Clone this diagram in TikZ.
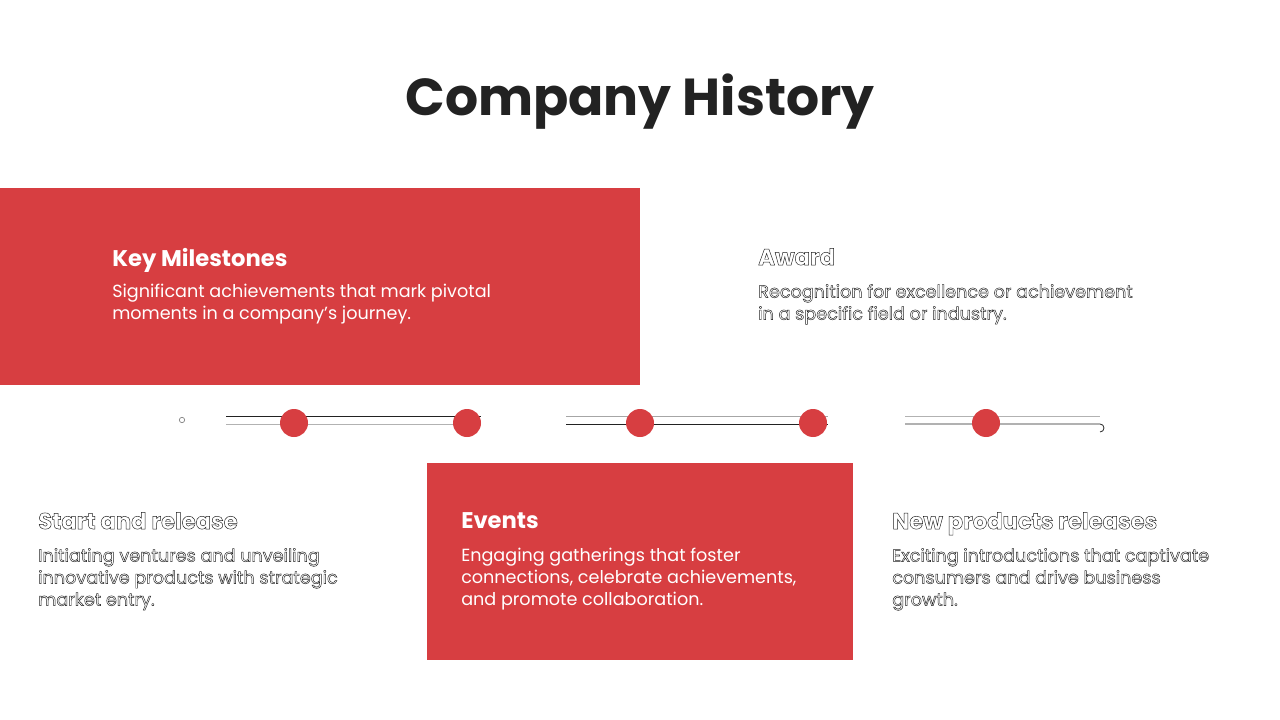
\documentclass[tikz,border=0pt]{standalone}
\usepackage{fontspec}
\setmainfont{Poppins}
\definecolor{brand}{HTML}{D73E41}
\definecolor{ink}{HTML}{222222}
\newcommand{\outl}[1]{\special{pdf:literal direct 1 Tr 0.35 w}#1\special{pdf:literal direct 0 Tr}}
\tikzset{
  hd/.style={anchor=north west,align=left,font=\fontsize{17}{20}\selectfont\bfseries,inner sep=0},
  bd/.style={anchor=north west,align=left,font=\fontsize{13.2}{16.5}\selectfont,inner sep=0},
  dot/.style={circle,fill=brand,minimum size=21pt,inner sep=0},
  tl/.style={line width=0.6pt}
}
\begin{document}
\begin{tikzpicture}[x=0.75pt,y=-0.75pt]
\useasboundingbox (0,0) rectangle (1280,720);
\node[font=\fontsize{39}{44}\selectfont\bfseries,text=ink] (title) at (640,102) {Company History};
\fill[brand] (0,188) rectangle (640,385);
\fill[brand] (427,463) rectangle (853,660);
\node[hd,text=white] (h1) at (112,248) {Key Milestones};
\node[bd,text=white] (b1) at (112,284) {Significant achievements that mark pivotal\\moments in a company's journey.};
\node[hd,text=white] (h2) at (461,512) {Events};
\node[bd,text=white] (b2) at (461,548) {Engaging gatherings that foster\\connections, celebrate achievements,\\and promote collaboration.};
\node[hd,text=ink] (h3) at (758,248) {\outl{Award}};
\node[bd,text=ink] (b3) at (758,284) {\outl{Recognition for excellence or achievement}\\\outl{in a specific field or industry.}};
\node[hd,text=ink] (h4) at (38,512) {\outl{Start and release}};
\node[bd,text=ink] (b4) at (38,548) {\outl{Initiating ventures and unveiling}\\\outl{innovative products with strategic}\\\outl{market entry.}};
\node[hd,text=ink] (h5) at (892,512) {\outl{New products releases}};
\node[bd,text=ink] (b5) at (892,548) {\outl{Exciting introductions that captivate}\\\outl{consumers and drive business}\\\outl{growth.}};
% timeline
\node[circle,draw=gray,line width=0.5pt,minimum size=4pt,inner sep=0] (st) at (182,420) {};
\draw[tl,draw=ink] (226,416) -- (481,416);
\draw[tl,draw=gray!60] (226,424) -- (481,424);
\draw[tl,draw=gray!70] (566,416) -- (828,416);
\draw[tl,draw=ink] (566,424) -- (828,424);
\draw[tl,draw=gray!60] (905,416) -- (1100,416);
\draw[tl,draw=ink] (905,424) -- (1100,424) arc (-90:90:4);
\node[dot] (d1) at (294,423) {};
\node[dot] (d2) at (467,423) {};
\node[dot] (d3) at (640,423) {};
\node[dot] (d4) at (813,423) {};
\node[dot] (d5) at (986,423) {};
\end{tikzpicture}
\end{document}
